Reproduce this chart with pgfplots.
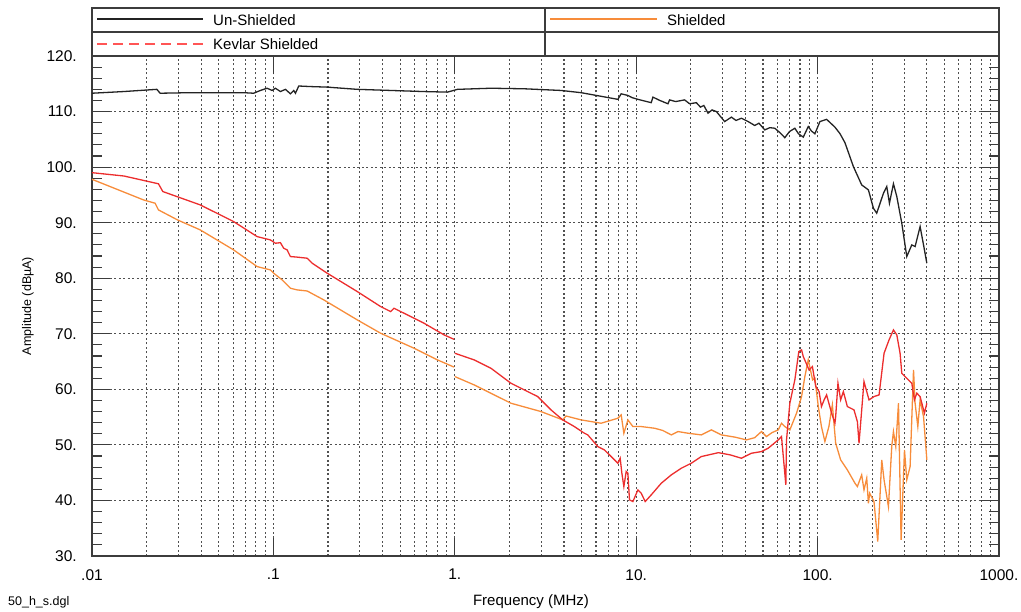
\documentclass[border=0pt]{standalone}
\usepackage{fontspec}
\setmainfont{Liberation Sans}
\usepackage{pgfplots}
\pgfplotsset{compat=1.18}
\definecolor{kred}{RGB}{236,45,45}
\definecolor{klegred}{RGB}{255,85,85}
\definecolor{korange}{RGB}{247,140,58}
\definecolor{kblack}{RGB}{35,35,35}
\definecolor{kframe}{RGB}{60,60,60}
\definecolor{kgrid}{RGB}{80,80,80}
\newcommand\lab{\fontsize{15}{18}\selectfont}
\newcommand\tlab{\fontsize{15.5}{18}\selectfont}
\begin{document}
\begin{tikzpicture}[x=1pt,y=1pt]
\path[use as bounding box] (0,0) rectangle (1021,-612);
\begin{axis}[
  at={(92pt,-556pt)}, anchor=south west,
  scale only axis, width=907pt, height=500pt,
  xmode=log, xmin=0.01, xmax=1000, ymin=30, ymax=120,
  xtick={0.01,0.1,1,10,100,1000},
  xticklabels={.01,.1,1.,10.,100.,1000.},
  ytick={30,40,50,60,70,80,90,100,110,120},
  yticklabels={30.,40.,50.,60.,70.,80.,90.,100.,110.,120.},
  extra y ticks={32,34,36,38,42,44,46,48,52,54,56,58,62,64,66,68,72,74,76,78,82,84,86,88,92,94,96,98,102,104,106,108,112,114,116,118},
  extra y tick labels={},
  extra y tick style={major tick length=10pt, grid=none},
  xmajorgrids=true, xminorgrids=true, ymajorgrids=true, yminorgrids=false,
  major tick length=18pt, minor tick length=0pt,
  tick align=inside,
  tick style={kframe, line width=1.2pt},
  major grid style={kgrid, line width=1.1pt, dash pattern=on 2pt off 2.5pt},
  minor grid style={kgrid, line width=1.1pt, dash pattern=on 2pt off 2.5pt},
  axis line style={kframe, line width=1.4pt},
  xticklabel style={font=\tlab, inner sep=0pt, anchor=north, yshift=-13pt},
  yticklabel style={font=\tlab, inner sep=0pt, anchor=east, xshift=-15pt},
  clip=true,
]
% Un-Shielded
\addplot[kblack, line width=1.3pt] coordinates {
(0.01,113.3) (0.01489,113.6) (0.02278,114.0) (0.02375,113.3) (0.03478,113.4) (0.06854,113.4) (0.07785,113.3) (0.08477,113.8) (0.09232,114.2) (0.09835,113.8) (0.1026,114.2) (0.1093,113.6) (0.1165,114.0) (0.1241,113.2) (0.1295,113.8) (0.1323,113.3) (0.1380,114.6) (0.1601,114.5) (0.1981,114.4) (0.2900,114.0) (0.6768,113.6) (0.9114,113.5) (1.035,114.0) (1.581,114.2) (2.415,114.1) (3.851,113.8) (4.968,113.4) (7.925,112.2) (8.264,113.2) (9.0,112.9) (9.5,112.5) (10.22,112.2) (12.10,111.6) (12.37,112.6) (13.5,112.0) (14.97,111.4) (15.28,112.1) (16.5,111.8) (18.49,112.1) (19.70,111.4) (21.46,111.6) (22.6,110.8) (23.6,111.1) (24.89,109.7) (26.2,110.3) (27.67,110.0) (30.75,108.2) (33.49,109.0) (35.5,108.4) (38.02,108.8) (41.41,108.2) (45.0,107.5) (47.5,107.9) (51.14,106.7) (54.5,107.1) (58.09,107.0) (62.0,106.2) (65.97,105.3) (70.0,106.4) (74.91,107.0) (78.5,106.0) (83.37,105.4) (88.83,107.3) (92.5,106.5) (96.63,106.0) (103.0,108.2) (112.1,108.6) (124.6,107.2) (133.0,106.0) (141.5,104.4) (157.5,100.1) (175.0,96.8) (190.6,95.9) (203.1,92.6) (211.8,91.7) (230.7,95.3) (240.6,96.5) (248.9,93.5) (261.9,97.0) (273.3,94.7) (291.2,89.9) (310.2,83.9) (330.6,86.0) (344.8,85.7) (367.4,89.3) (383.7,86.0) (400.2,82.7)
};
% Shielded (orange)
\addplot[korange, line width=1.3pt] coordinates {
(0.01,97.8) (0.01920,94.1) (0.02229,93.5) (0.02324,92.3) (0.02960,90.5) (0.03951,88.7) (0.06035,85.1) (0.08128,82.1) (0.09625,81.5) (0.1004,80.9) (0.1117,79.7) (0.1190,78.8) (0.1241,78.2) (0.1352,77.9) (0.1536,77.7) (0.1896,76.1) (0.2900,72.5) (0.3901,70.1) (0.5959,67.4) (0.8025,65.3) (0.991,64.0)
};
\addplot[korange, line width=1.3pt] coordinates {
(1.0,62.3) (1.278,60.8) (1.581,59.3) (2.039,57.5) (2.987,56.0) (3.936,54.5) (4.106,55.2) (4.968,54.5) (6.407,53.9) (7.925,54.8) (8.264,55.4) (8.551,52.1) (9.000,54.5) (9.589,53.3) (10.66,53.3) (12.62,53.0) (14.0,52.6) (15.61,51.8) (17.00,52.4) (19.30,52.1) (22.86,51.8) (25.97,52.7) (29.49,51.8) (35.0,51.4) (40.53,50.9) (45.0,51.3) (49.05,52.4) (52.26,51.5) (56.0,52.2) (60.67,52.7) (63.26,53.9) (65.97,53.3) (70.31,52.7) (76.56,55.7) (81.59,58.7) (85.07,62.3) (88.83,65.3) (93.86,61.7) (96.63,62.0) (100.9,56.9) (105.0,53.3) (109.7,50.6) (115.4,53.3) (120.6,57.2) (125.8,50.3) (134.0,47.3) (145.9,45.5) (160.7,43.1) (165.7,42.5) (175.0,44.6) (180.2,41.9) (186.6,44.0) (190.6,39.5) (193.8,41.3) (204.6,39.8) (214.6,32.6) (225.8,47.3) (232.5,43.7) (245.8,38.9) (256.3,49.7) (261.9,52.4) (269.7,49.7) (279.2,57.5) (288.6,32.9) (301.3,49.1) (310.2,43.7) (323.6,46.1) (337.9,63.5) (344.8,57.5) (356.9,53.3) (367.4,58.1) (383.7,55.1) (400.2,47.3)
};
% Kevlar Shielded (red)
\addplot[kred, line width=1.3pt] coordinates {
(0.01,99.0) (0.015,98.4) (0.02324,97.0) (0.02458,95.6) (0.03951,93.2) (0.06035,90.2) (0.08128,87.5) (0.09625,86.9) (0.1026,86.3) (0.1093,86.4) (0.1140,85.4) (0.1190,85.1) (0.1241,83.9) (0.1352,83.8) (0.1536,83.6) (0.1636,82.7) (0.1981,80.9) (0.2900,77.6) (0.3901,74.9) (0.4431,74.0) (0.4621,74.6) (0.5248,73.7) (0.6768,71.9) (0.8728,69.8) (0.991,69.0)
};
\addplot[kred, line width=1.3pt] coordinates {
(1.0,66.5) (1.278,65.3) (1.581,63.8) (2.039,61.1) (2.415,59.9) (2.864,58.7) (3.392,56.3) (3.936,54.5) (4.561,53.3) (5.182,52.1) (5.410,51.8) (6.143,49.7) (6.682,49.1) (7.278,47.9) (7.925,46.7) (8.159,47.6) (8.337,44.9) (8.551,42.5) (8.807,45.2) (9.000,44.9) (9.183,40.1) (9.589,39.8) (10.22,41.9) (10.66,41.3) (11.21,39.8) (12.10,41.0) (13.75,43.1) (15.61,44.6) (17.73,45.8) (20.13,46.7) (22.86,47.9) (28.38,48.6) (33.0,48.2) (38.02,47.6) (43.19,48.5) (49.05,48.8) (53.41,49.4) (60.67,50.9) (63.26,51.5) (66.82,42.8) (67.41,50.9) (70.31,57.5) (74.91,61.7) (78.83,66.8) (81.59,67.1) (83.37,65.9) (89.74,63.5) (93.6,64.1) (97.7,60.5) (101.9,59.6) (105.0,56.9) (108.6,58.1) (112.1,59.0) (119.5,55.7) (124.6,53.9) (125.8,55.1) (129.5,61.1) (134.0,58.1) (138.7,59.6) (145.9,56.9) (158.7,56.3) (165.7,54.2) (169.2,50.3) (180.2,61.4) (192.1,58.1) (204.6,58.7) (218.2,59.0) (232.5,66.5) (247.7,68.9) (261.9,70.7) (273.3,69.8) (284.9,66.5) (291.2,62.9) (310.2,62.0) (330.6,61.1) (341.7,58.1) (352.4,59.3) (367.4,58.7) (388.1,55.7) (400.2,57.5)
};
\end{axis}
% legend box
\draw[kframe, line width=1.4pt] (92,-8) rectangle (999,-56);
\draw[kframe, line width=1.2pt] (92,-32) -- (999,-32);
\draw[kframe, line width=1.2pt] (545,-8) -- (545,-56);
\draw[kblack, line width=1.5pt] (97,-19) -- (203,-19);
\node[anchor=base west, inner sep=0pt, font=\lab] at (213,-25.5) {Un-Shielded};
\draw[klegred, line width=1.5pt, dash pattern=on 10pt off 6pt] (97,-44) -- (203,-44);
\node[anchor=base west, inner sep=0pt, font=\lab] at (213,-50) {Kevlar Shielded};
\draw[korange, line width=1.5pt] (550,-19) -- (657,-19);
\node[anchor=base west, inner sep=0pt, font=\lab] at (667,-25.5) {Shielded};
% axis labels
\node[rotate=90, inner sep=0pt, font=\fontsize{12.5}{15}\selectfont] at (28,-306) {Amplitude (dBµA)};
\node[anchor=base, inner sep=0pt, font=\lab] at (531,-605) {Frequency (MHz)};
\node[anchor=base west, inner sep=0pt, font=\fontsize{12.5}{15}\selectfont] at (8,-605) {50\_h\_s.dgl};
\end{tikzpicture}
\end{document}
